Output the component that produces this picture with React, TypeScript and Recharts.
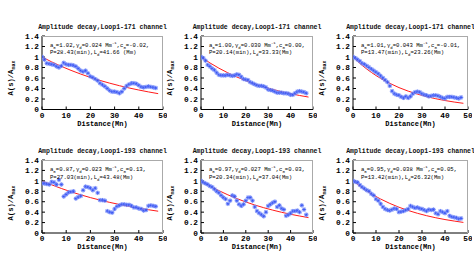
import React from 'react';
import { ComposedChart, XAxis, YAxis, Line, Scatter } from 'recharts';

// ---------- data ----------
const distance = [0,1,2,3,4,5,6,7,8,9,10,11,12,13,14,15,16,17,18,19,20,21,22,23,24,25,26,27,28,29,30,31,32,33,34,35,36,37,38,39,40,41,42,43,44,45,46,47];

const amp171a = [1.00,0.95,0.88,0.87,0.86,0.85,0.82,0.80,0.83,0.89,0.86,0.85,0.85,0.84,0.82,0.78,0.74,0.72,0.74,0.69,0.63,0.61,0.58,0.55,0.50,0.47,0.44,0.40,0.36,0.34,0.34,0.33,0.31,0.34,0.40,0.45,0.48,0.50,0.50,0.49,0.46,0.43,0.42,0.43,0.44,0.43,0.42,0.41];
const amp171b = [1.00,0.98,0.93,0.85,0.82,0.78,0.75,0.70,0.66,0.65,0.65,0.65,0.66,0.65,0.64,0.65,0.67,0.66,0.62,0.58,0.57,0.56,0.52,0.50,0.48,0.46,0.45,0.45,0.44,0.42,0.38,0.37,0.36,0.34,0.32,0.32,0.32,0.31,0.31,0.30,0.28,0.28,0.31,0.34,0.35,0.34,0.33,0.31];
const amp171c = [1.00,0.98,0.95,0.92,0.88,0.86,0.83,0.80,0.77,0.74,0.71,0.68,0.64,0.60,0.56,0.52,0.45,0.35,0.30,0.28,0.27,0.24,0.22,0.25,0.22,0.25,0.30,0.33,0.34,0.33,0.30,0.28,0.27,0.25,0.26,0.27,0.27,0.26,0.24,0.22,0.21,0.24,0.24,0.24,0.23,0.22,0.21,0.23];
const amp193a = [0.95,0.95,0.94,0.93,0.98,0.97,0.93,1.02,0.93,0.70,0.74,0.78,0.79,0.80,0.66,0.69,0.71,0.82,0.89,0.88,0.86,0.82,0.86,0.77,0.63,0.63,0.62,0.42,0.40,0.39,0.46,0.51,0.53,0.55,0.55,0.54,0.54,0.52,0.49,0.49,0.47,0.46,0.43,0.44,0.52,0.53,0.52,0.51];
const amp193b = [1.00,0.97,0.95,0.93,0.90,0.88,0.84,0.80,0.77,0.72,0.68,0.65,0.56,0.62,0.72,0.70,0.62,0.55,0.52,0.55,0.62,0.68,0.68,0.62,0.50,0.42,0.38,0.35,0.32,0.40,0.52,0.55,0.58,0.60,0.50,0.53,0.47,0.45,0.33,0.35,0.38,0.42,0.42,0.43,0.40,0.53,0.45,0.35];
const amp193c = [1.00,0.98,0.97,0.92,0.88,0.85,0.82,0.80,0.75,0.72,0.65,0.62,0.56,0.50,0.46,0.44,0.43,0.45,0.47,0.46,0.40,0.41,0.42,0.44,0.46,0.52,0.50,0.48,0.49,0.47,0.46,0.44,0.42,0.45,0.44,0.45,0.38,0.36,0.42,0.40,0.38,0.42,0.33,0.31,0.30,0.29,0.27,0.28];

const fitDistance = [0,4,8,12,16,20,24,28,32,36,40,44,48];
const fit171a = [1.000,0.907,0.822,0.745,0.675,0.611,0.553,0.501,0.453,0.410,0.371,0.335,0.302];
const fit171b = [1.000,0.887,0.787,0.698,0.619,0.549,0.487,0.432,0.383,0.340,0.301,0.267,0.237];
const fit171c = [1.000,0.840,0.706,0.593,0.498,0.417,0.350,0.293,0.245,0.205,0.171,0.142,0.118];
const fit193a = [1.000,0.924,0.854,0.790,0.732,0.679,0.631,0.587,0.547,0.510,0.477,0.446,0.418];
const fit193b = [1.000,0.901,0.812,0.732,0.660,0.595,0.537,0.485,0.439,0.397,0.359,0.326,0.295];
const fit193c = [1.000,0.866,0.751,0.652,0.567,0.494,0.432,0.378,0.332,0.292,0.258,0.229,0.203];

const xTicks = [0,10,20,30,40,50];
const yTicks = [0,0.2,0.4,0.6,0.8,1,1.2,1.4];

const titles = ['Amplitude decay,Loop1-171 channel','Amplitude decay,Loop1-193 channel'];
const params = [
  { a: '1.02', g: '0.024', c: '-0.02', p: '28.43', l: '41.66 ' },
  { a: '1.00', g: '0.030', c: '0.00', p: '20.14', l: '33.33' },
  { a: '1.01', g: '0.043', c: '-0.01', p: '13.47', l: '23.26' },
  { a: '0.87', g: '0.023', c: '0.13', p: '27.03', l: '43.48' },
  { a: '0.97', g: '0.027', c: '0.03', p: '20.34', l: '37.04' },
  { a: '0.95', g: '0.038', c: '0.05', p: '13.42', l: '26.32' },
];

const pointSeries = [amp171a, amp171b, amp171c, amp193a, amp193b, amp193c];
const fitSeries = [fit171a, fit171b, fit171c, fit193a, fit193b, fit193c];

// ---------- layout ----------
const cols = [
  { left: 42, right: 163 },
  { left: 201, right: 313 },
  { left: 353, right: 468 },
];
const rows = [
  { top: 35.5, bottom: 109, title: 28, xlab: 124 },
  { top: 160, bottom: 233, title: 152, xlab: 247 },
];

const MONO = '"Liberation Mono", "DejaVu Sans Mono", monospace';

const Star = (props: any) => {
  const { cx, cy } = props;
  if (cx == null || cy == null) return null;
  const r = 2;
  const d = r * 0.7;
  return (
    <g>
      <circle cx={cx} cy={cy} r={2.4} fill="#9fb0ff" fillOpacity={0.55} />
      <path
        d={`M${cx - r},${cy}L${cx + r},${cy}M${cx},${cy - r}L${cx},${cy + r}M${cx - d},${cy - d}L${cx + d},${cy + d}M${cx - d},${cy + d}L${cx + d},${cy - d}`}
        stroke="#3552f2"
        strokeWidth={0.7}
      />
    </g>
  );
};

const tickStyle = { fontSize: 7.8, fontFamily: MONO, fontWeight: 700, fill: '#000' };

function Panel({ idx }: { idx: number }) {
  const col = cols[idx % 3];
  const row = rows[Math.floor(idx / 3)];
  const ML = 40, MT = 4, MR = 4, XH = 20;
  const w = col.right - col.left;
  const h = row.bottom - row.top;
  const pts = distance.map((x, i) => ({ x, y: pointSeries[idx][i] }));
  const fit = fitDistance.map((x, i) => ({ x, y: fitSeries[idx][i] }));
  const pr = params[idx];
  const cx = (col.left + col.right) / 2;
  const cy = (row.top + row.bottom) / 2;
  return (
    <>
      <div style={{ position: 'absolute', left: col.left - ML, top: row.top - MT }}>
        <ComposedChart width={w + ML + MR} height={h + MT + XH} margin={{ top: MT, right: MR, left: 0, bottom: 0 }}>
          <XAxis
            type="number"
            dataKey="x"
            domain={[0, 50]}
            ticks={xTicks}
            height={XH}
            interval={0}
            tickSize={-3}
            tickMargin={5.5}
            tick={tickStyle}
            axisLine={{ stroke: '#000', strokeWidth: 1 }}
            tickLine={{ stroke: '#000' }}
            allowDataOverflow
          />
          <YAxis
            type="number"
            dataKey="y"
            domain={[0, 1.4]}
            ticks={yTicks}
            width={ML}
            interval={0}
            tickSize={-3}
            tickMargin={6}
            tick={tickStyle}
            axisLine={{ stroke: '#000', strokeWidth: 1 }}
            tickLine={{ stroke: '#000' }}
            allowDataOverflow
          />
          <Line
            data={fit}
            dataKey="y"
            type="monotone"
            stroke="#ff1a1a"
            strokeWidth={1}
            dot={false}
            activeDot={false}
            isAnimationActive={false}
          />
          <Scatter data={pts} dataKey="y" shape={Star} isAnimationActive={false} />
        </ComposedChart>
      </div>
      <div
        style={{
          position: 'absolute',
          left: col.left,
          top: row.top,
          width: w,
          height: h,
          borderTop: '1px solid #aaa',
          borderRight: '1px solid #aaa',
          boxSizing: 'border-box',
          pointerEvents: 'none',
        }}
      />
      <div
        style={{
          position: 'absolute',
          left: cx - 100,
          width: 200,
          top: row.title - 4,
          lineHeight: '8px',
          textAlign: 'center',
          fontFamily: MONO,
          fontWeight: 700,
          fontSize: 6.5,
          whiteSpace: 'nowrap',
          color: '#111',
        }}
      >
        {titles[Math.floor(idx / 3)]}
      </div>
      <div
        style={{
          position: 'absolute',
          left: col.left + 8,
          top: row.top + 6,
          fontFamily: MONO,
          fontSize: 5.6,
          lineHeight: '7.5px',
          whiteSpace: 'nowrap',
          color: '#000',
        }}
      >
        <div>
          a<sub style={{ fontSize: 4, lineHeight: 0 }}>0</sub>={pr.a},γ<sub style={{ fontSize: 4, lineHeight: 0 }}>d</sub>={pr.g} Mm<sup style={{ fontSize: 4, lineHeight: 0 }}>-1</sup>,c<sub style={{ fontSize: 4, lineHeight: 0 }}>0</sub>={pr.c},
        </div>
        <div>
          P={pr.p}(min),L<sub style={{ fontSize: 4, lineHeight: 0 }}>d</sub>={pr.l}(Mm)
        </div>
      </div>
      <div
        style={{
          position: 'absolute',
          left: col.left - 31 - 50,
          top: cy + 6 - 5,
          width: 100,
          height: 10,
          lineHeight: '10px',
          textAlign: 'center',
          transform: 'rotate(-90deg)',
          fontFamily: MONO,
          fontWeight: 700,
          fontSize: 7.2,
          whiteSpace: 'nowrap',
          color: '#000',
        }}
      >
        A(s)/A<sub style={{ fontSize: 5, lineHeight: 0 }}>max</sub>
      </div>
      <div
        style={{
          position: 'absolute',
          left: cx - 50,
          width: 100,
          top: row.xlab - 4,
          lineHeight: '8px',
          textAlign: 'center',
          fontFamily: MONO,
          fontWeight: 700,
          fontSize: 7,
          whiteSpace: 'nowrap',
          color: '#000',
        }}
      >
        Distance(Mn)
      </div>
    </>
  );
}

export default function App() {
  return (
    <div
      style={{
        position: 'absolute',
        left: 0,
        top: 0,
        width: 474,
        height: 260,
        overflow: 'hidden',
        background: '#fff',
      }}
    >
      {[0, 1, 2, 3, 4, 5].map((i) => (
        <Panel key={i} idx={i} />
      ))}
    </div>
  );
}
